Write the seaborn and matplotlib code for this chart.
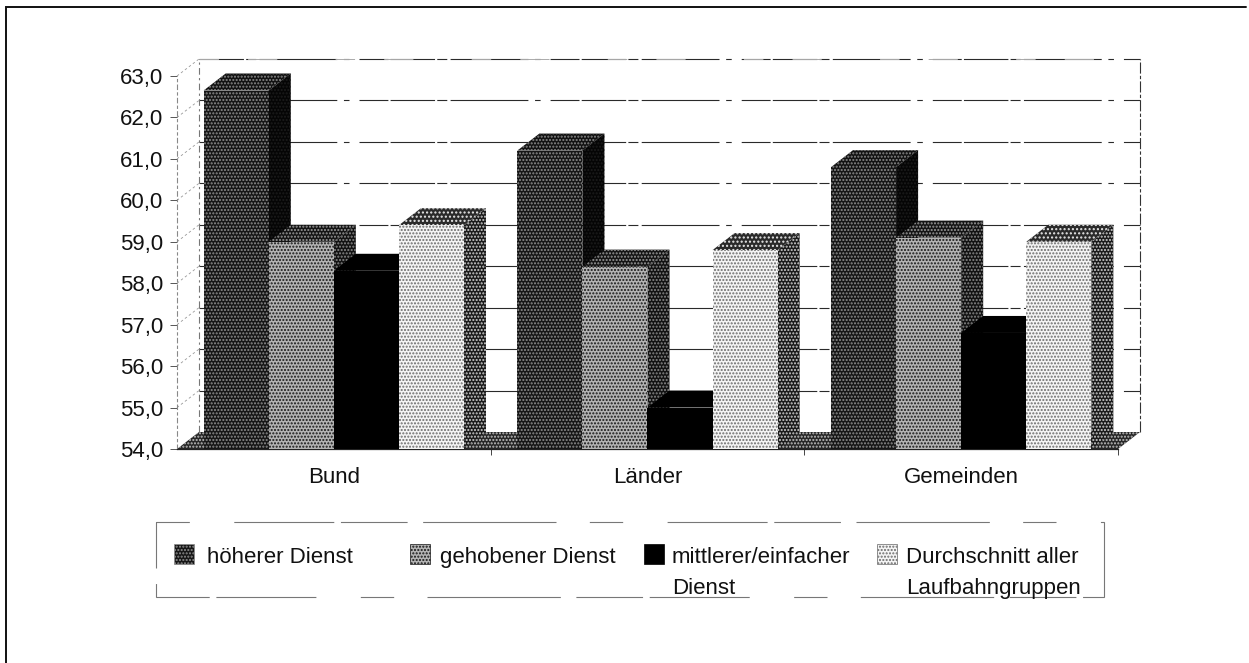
import numpy as np
import pandas as pd
import matplotlib
matplotlib.use("Agg")
import matplotlib.pyplot as plt
from matplotlib.patches import Polygon, Rectangle
import seaborn as sns

categories = ["Bund", "Länder", "Gemeinden"]
series = ["höherer Dienst", "gehobener Dienst", "mittlerer/einfacher\nDienst", "Durchschnitt aller\nLaufbahngruppen"]
hoeherer = [62.65, 61.2, 60.8]
gehobener = [59.0, 58.4, 59.1]
mittlerer = [58.3, 55.0, 56.8]
durchschnitt = [59.4, 58.8, 59.0]
y_ticks = [54, 55, 56, 57, 58, 59, 60, 61, 62, 63]

df = pd.DataFrame({
    "cat": categories * 4,
    "ser": [s for s in series for _ in categories],
    "val": hoeherer + gehobener + mittlerer + durchschnitt,
})

W, H = 1249, 663
sns.set_theme(style="white")
plt.rcParams["font.family"] = ["Liberation Sans", "DejaVu Sans"]
plt.rcParams["hatch.linewidth"] = 1.0
fig = plt.figure(figsize=(W / 100, H / 100), dpi=100, facecolor="white")

L, R, T, B = 177, 1118, 76, 449
ax = fig.add_axes([L / W, 1 - B / H, (R - L) / W, (B - T) / H])
ax.patch.set_alpha(0)
DX, DY = 22, 17

# (face colour, hatch, hatch colour) for each surface of each series
front = {series[0]: ("#161616", ".....", "#8e8e8e"),
         series[1]: ("#b4b4b4", ".....", "#161616"),
         series[2]: ("#000000", "", "#000000"),
         series[3]: ("#f4f4f4", ".....", "#6a6a6a")}
top = {series[0]: ("#121212", ".....", "#8a8a8a"),
       series[1]: ("#141414", ".....", "#9a9a9a"),
       series[2]: ("#000000", "", "#000000"),
       series[3]: ("#2a2a2a", "....", "#e8e8e8")}
side = {series[0]: ("#050505", ".....", "#1c1c1c"),
        series[1]: ("#121212", ".....", "#8a8a8a"),
        series[2]: ("#000000", "", "#000000"),
        series[3]: ("#1a1a1a", ".....", "#d0d0d0")}
face = {k: v[0] for k, v in front.items()}

sns.barplot(data=df, x="cat", y="val", hue="ser", hue_order=series, order=categories,
            palette=face, gap=0, width=0.83, dodge=True, saturation=1, legend=False,
            ax=ax, bottom=0, zorder=5, edgecolor="none", linewidth=0)
ax.set_ylim(54, 63)
ax.set_xlim(-0.5, 2.5)
sy = (63 - 54) / (B - T)
sx = 3 / (R - L)
dx, dy = DX * sx, DY * sy

GRID = dict(color="#2a2a2a", lw=0.8, ls=(0, (40, 2, 9, 3, 70, 6, 5, 9, 26, 2)), clip_on=False)
ax.add_patch(Polygon([(-0.5, 54), (2.5, 54), (2.5 + dx, 54 + dy), (-0.5 + dx, 54 + dy)],
                     closed=True, facecolor="#262626", edgecolor="#c0c0c0", lw=0, hatch=".....",
                     zorder=1, clip_on=False))
for v in y_ticks[1:]:
    ax.plot([-0.5 + dx, 2.5 + dx], [v + dy, v + dy], zorder=0.5, **GRID)
    ax.plot([-0.5, -0.5 + dx], [v, v + dy], color="#999999", lw=0.6, ls=(0, (3, 3)), clip_on=False, zorder=0.5)
ax.plot([-0.5 + dx, 2.5 + dx], [63 + dy, 63 + dy], color="#aaaaaa", lw=0.7, ls=(0, (20, 30, 30, 60)), clip_on=False, zorder=0.5)
ax.plot([-0.5 + dx] * 2, [54 + dy, 63 + dy], color="#777777", lw=0.8, ls=(0, (6, 3, 2, 3)), clip_on=False, zorder=0.5)
ax.plot([2.5 + dx] * 2, [54 + dy, 63 + dy], color="#333333", lw=0.8, ls=(0, (10, 2, 3, 2)), clip_on=False, zorder=0.5)

bars = [p for p in ax.patches if isinstance(p, Rectangle) and p.get_width() > 0 and p.get_height() > 0]
for i, p in enumerate(bars):
    name = series[i // 3]
    fc, h, hc = front[name]
    p.set_hatch(h or None)
    p.set_edgecolor(hc)
    p.set_linewidth(0)
    x0, x1, v = p.get_x(), p.get_x() + p.get_width(), p.get_y() + p.get_height()
    z = 5 + (i // 3)
    p.set_zorder(z + 0.2)
    for pts, st in (([(x0, v), (x1, v), (x1 + dx, v + dy), (x0 + dx, v + dy)], top[name]),
                    ([(x1, 54), (x1 + dx, 54 + dy), (x1 + dx, v + dy), (x1, v)], side[name])):
        ax.add_patch(Polygon(pts, closed=True, facecolor=st[0], edgecolor=st[2], lw=0,
                             hatch=st[1] or None, zorder=z, clip_on=False))

ax.set_yticks(y_ticks)
ax.set_yticklabels([f"{v:.1f}".replace(".", ",") for v in y_ticks], fontsize=16, color="#111111")
ax.set_xticks([0, 1, 2])
ax.set_xticklabels(categories, fontsize=16, color="#111111")
ax.set_xticks([0.5, 1.5, 2.5], minor=True)
ax.set_xlabel("")
ax.set_ylabel("")
ax.tick_params(axis="y", length=5, width=0.7, color="#555555", left=True, pad=5)
ax.tick_params(axis="x", which="major", length=0, pad=13)
ax.tick_params(axis="x", which="minor", length=4, width=0.7, color="#444444", bottom=True)
for s in ["top", "right"]:
    ax.spines[s].set_visible(False)
ax.spines["left"].set_color("#888888")
ax.spines["left"].set_linewidth(0.8)
ax.spines["left"].set_linestyle((0, (4, 3, 2, 3)))
ax.spines["bottom"].set_color("#222222")
ax.spines["bottom"].set_linewidth(0.9)

ov = fig.add_axes([0, 0, 1, 1], zorder=10)
ov.set_xlim(0, W)
ov.set_ylim(H, 0)
ov.axis("off")
ov.patch.set_alpha(0)
ov.plot([6, 6, 1246], [H, 7, 7], color="#111111", lw=1.4, solid_joinstyle="miter")
ov.add_patch(Rectangle((156, 522), 948, 75, fill=False, edgecolor="#777777", lw=0.8,
                       ls=(0, (30, 40, 90, 6, 60, 14, 120, 30))))
sw_x = [174, 410, 644, 877]
tx_x = [207, 440, 672, 906]
for name, sx_, tx in zip(series, sw_x, tx_x):
    fc, h, hc = front[name]
    ov.add_patch(Rectangle((sx_, 544), 20, 20, facecolor=fc, edgecolor=hc, lw=0.5, hatch=h or None))
    ov.text(tx, 547, name, fontsize=16, va="top", ha="left", color="#111111", linespacing=1.62)

fig.savefig("out.png", dpi=100)
